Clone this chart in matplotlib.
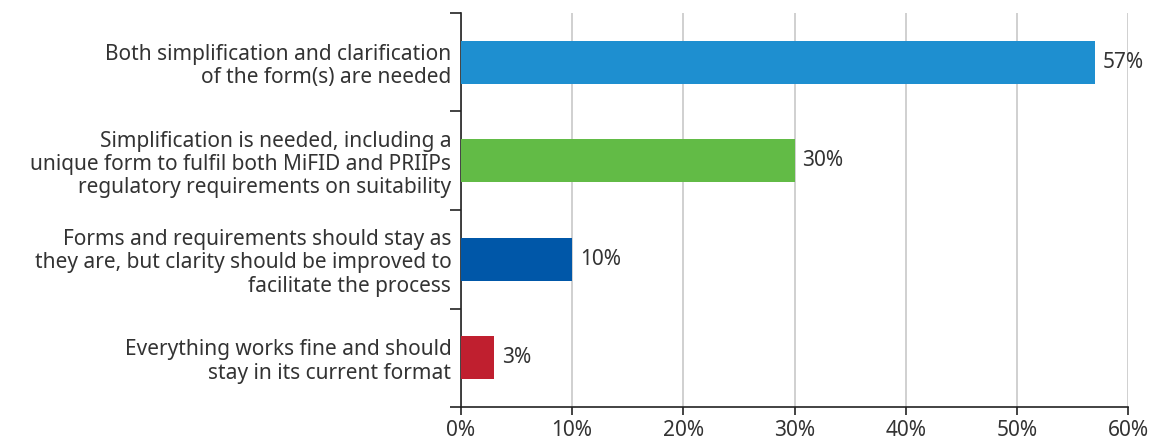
import matplotlib
matplotlib.use("Agg")
import matplotlib.pyplot as plt
from matplotlib.ticker import FixedLocator, PercentFormatter

categories = [
    "Both simplification and clarification\nof the form(s) are needed",
    "Simplification is needed, including a\nunique form to fulfil both MiFID and PRIIPs\nregulatory requirements on suitability",
    "Forms and requirements should stay as\nthey are, but clarity should be improved to\nfacilitate the process",
    "Everything works fine and should\nstay in its current format",
]
values = [57, 30, 10, 3]
colors = ["#1e8fd0", "#62bb46", "#0057a8", "#c01f2f"]
xticks = [0, 10, 20, 30, 40, 50, 60]

plt.rcParams['font.family'] = ['Noto Sans', 'DejaVu Sans']
FS = 15

fig = plt.figure(figsize=(11.55, 4.4), dpi=100)
ax = fig.add_axes([461/1155, 1-407/440, (1128-461)/1155, (407-13)/440])

y = list(range(len(categories)))
ax.barh(y, values, height=0.44, color=colors, zorder=3)
ax.set_ylim(len(categories)-0.5, -0.5)
ax.set_xlim(0, 60)

for yi, v in zip(y, values):
    ax.text(v + 0.7, yi, f"{v}%", va="center", ha="left", fontsize=FS, color="#333333")

ax.set_yticks(y)
ax.set_yticklabels(categories, fontsize=FS, color="#333333", linespacing=1.15)
ax.tick_params(axis="y", which="major", length=0, pad=7)
ax.yaxis.set_minor_locator(FixedLocator([-0.5, 0.5, 1.5, 2.5, 3.5]))
ax.tick_params(axis="y", which="minor", length=8, width=1.2, color="#222222")

ax.set_xticks(xticks)
ax.xaxis.set_major_formatter(PercentFormatter(decimals=0))
ax.tick_params(axis="x", length=6, width=1.2, color="#222222", labelsize=FS, labelcolor="#333333", pad=3)
ax.grid(axis="x", color="#c8c8c8", linewidth=1.2, zorder=0)

for s in ["top", "right"]:
    ax.spines[s].set_visible(False)
for s in ["left", "bottom"]:
    ax.spines[s].set_color("#222222")
    ax.spines[s].set_linewidth(1.2)

fig.savefig("out.png", dpi=100)
